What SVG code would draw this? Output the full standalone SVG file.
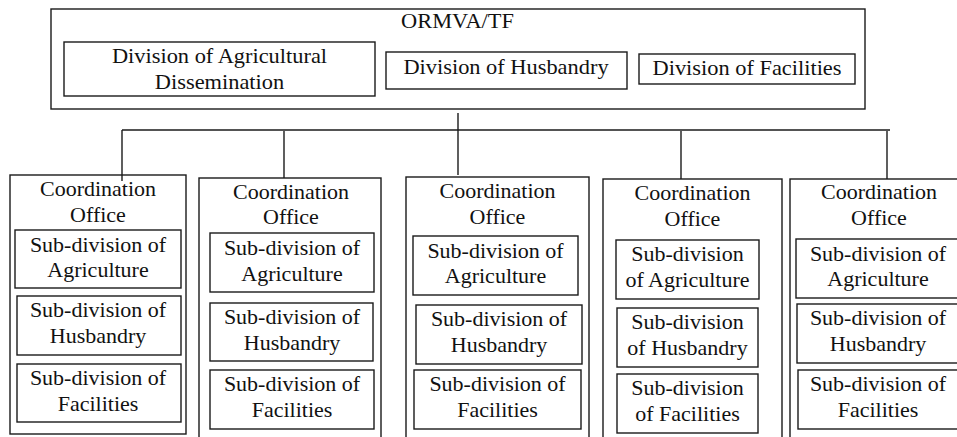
<svg xmlns="http://www.w3.org/2000/svg" width="957" height="437" viewBox="0 0 957 437">
<style>
.b{fill:none;stroke:#1a1a1a;stroke-width:1.4}
.c{fill:none;stroke:#1a1a1a;stroke-width:1.4}
.t{font-size:20px;text-anchor:middle;fill:#111}
</style>
<rect width="957" height="437" fill="#fff"/>
<g id="connectors">
<line class="c" x1="458" y1="113" x2="458" y2="175"/>
<line class="c" x1="122" y1="130" x2="890" y2="130"/>
<line class="c" x1="122" y1="130" x2="122" y2="181"/>
<line class="c" x1="284" y1="131" x2="284" y2="178"/>
<line class="c" x1="681" y1="131" x2="681" y2="179"/>
<line class="c" x1="887" y1="131" x2="887" y2="179"/>
</g>
<g font-family="'Liberation Serif', 'DejaVu Serif', serif">
<g id="ormva">
<rect class="b" x="51" y="9" width="814" height="100"/>
<text class="t" transform="translate(457.5,28) scale(1.12,1)">ORMVA/TF</text>
</g>
<g id="div-agri">
<rect class="b" x="64" y="42" width="311" height="54"/>
<text class="t" transform="translate(219.5,63) scale(1.12,1)">Division of Agricultural</text>
<text class="t" transform="translate(219.5,89) scale(1.12,1)">Dissemination</text>
</g>
<g id="div-husb">
<rect class="b" x="386" y="52" width="241" height="37"/>
<text class="t" transform="translate(506,74) scale(1.12,1)">Division of Husbandry</text>
</g>
<g id="div-fac">
<rect class="b" x="639" y="54" width="216" height="30"/>
<text class="t" transform="translate(747,75) scale(1.12,1)">Division of Facilities</text>
</g>

<g id="office1">
<rect class="b" x="10" y="175" width="176" height="259"/>
<text class="t" transform="translate(98,196) scale(1.1,1)">Coordination</text>
<text class="t" transform="translate(98,222) scale(1.1,1)">Office</text>
<rect class="b" x="15" y="230" width="166" height="58"/>
<text class="t" transform="translate(98,252) scale(1.1,1)">Sub-division of</text>
<text class="t" transform="translate(98,277) scale(1.1,1)">Agriculture</text>
<rect class="b" x="17" y="296" width="164" height="59"/>
<text class="t" transform="translate(98,317) scale(1.1,1)">Sub-division of</text>
<text class="t" transform="translate(98,343) scale(1.1,1)">Husbandry</text>
<rect class="b" x="17" y="364" width="164" height="58"/>
<text class="t" transform="translate(98,385) scale(1.1,1)">Sub-division of</text>
<text class="t" transform="translate(98,411) scale(1.1,1)">Facilities</text>
</g>

<g id="office2">
<rect class="b" x="199" y="178" width="182" height="270"/>
<text class="t" transform="translate(291,199) scale(1.1,1)">Coordination</text>
<text class="t" transform="translate(291,224) scale(1.1,1)">Office</text>
<rect class="b" x="210" y="233" width="164" height="59"/>
<text class="t" transform="translate(292,255) scale(1.1,1)">Sub-division of</text>
<text class="t" transform="translate(292,281) scale(1.1,1)">Agriculture</text>
<rect class="b" x="210" y="303" width="163" height="58"/>
<text class="t" transform="translate(292,324) scale(1.1,1)">Sub-division of</text>
<text class="t" transform="translate(292,350) scale(1.1,1)">Husbandry</text>
<rect class="b" x="210" y="370" width="164" height="59"/>
<text class="t" transform="translate(292,391) scale(1.1,1)">Sub-division of</text>
<text class="t" transform="translate(292,417) scale(1.1,1)">Facilities</text>
</g>

<g id="office3">
<rect class="b" x="406" y="177" width="183" height="270"/>
<text class="t" transform="translate(497.5,198) scale(1.1,1)">Coordination</text>
<text class="t" transform="translate(497.5,224) scale(1.1,1)">Office</text>
<rect class="b" x="413" y="236" width="165" height="59"/>
<text class="t" transform="translate(495.5,258) scale(1.1,1)">Sub-division of</text>
<text class="t" transform="translate(495.5,283) scale(1.1,1)">Agriculture</text>
<rect class="b" x="416" y="305" width="166" height="59"/>
<text class="t" transform="translate(499,326) scale(1.1,1)">Sub-division of</text>
<text class="t" transform="translate(499,352) scale(1.1,1)">Husbandry</text>
<rect class="b" x="414" y="370" width="167" height="59"/>
<text class="t" transform="translate(497.5,391) scale(1.1,1)">Sub-division of</text>
<text class="t" transform="translate(497.5,417) scale(1.1,1)">Facilities</text>
</g>

<g id="office4">
<rect class="b" x="603" y="179" width="179" height="270"/>
<text class="t" transform="translate(692.5,200) scale(1.1,1)">Coordination</text>
<text class="t" transform="translate(692.5,226) scale(1.1,1)">Office</text>
<rect class="b" x="616" y="240" width="143" height="59"/>
<text class="t" transform="translate(687.5,261) scale(1.1,1)">Sub-division</text>
<text class="t" transform="translate(687.5,287) scale(1.1,1)">of Agriculture</text>
<rect class="b" x="617" y="308" width="141" height="59"/>
<text class="t" transform="translate(687.5,329) scale(1.1,1)">Sub-division</text>
<text class="t" transform="translate(687.5,355) scale(1.1,1)">of Husbandry</text>
<rect class="b" x="617" y="374" width="141" height="59"/>
<text class="t" transform="translate(687.5,395) scale(1.1,1)">Sub-division</text>
<text class="t" transform="translate(687.5,421) scale(1.1,1)">of Facilities</text>
</g>

<g id="office5">
<rect class="b" x="790" y="179" width="178" height="270"/>
<text class="t" transform="translate(879,199) scale(1.1,1)">Coordination</text>
<text class="t" transform="translate(879,225) scale(1.1,1)">Office</text>
<rect class="b" x="796" y="239" width="165" height="59"/>
<text class="t" transform="translate(878,261) scale(1.1,1)">Sub-division of</text>
<text class="t" transform="translate(878,286) scale(1.1,1)">Agriculture</text>
<rect class="b" x="797" y="304" width="165" height="59"/>
<text class="t" transform="translate(878,325) scale(1.1,1)">Sub-division of</text>
<text class="t" transform="translate(878,351) scale(1.1,1)">Husbandry</text>
<rect class="b" x="798" y="370" width="165" height="59"/>
<text class="t" transform="translate(878,391) scale(1.1,1)">Sub-division of</text>
<text class="t" transform="translate(878,417) scale(1.1,1)">Facilities</text>
</g>
</g>
</svg>
